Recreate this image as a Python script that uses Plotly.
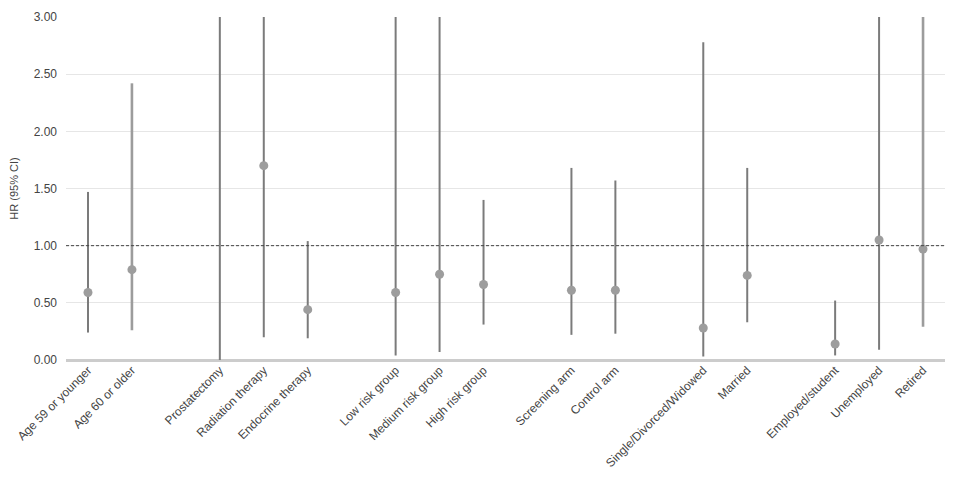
import plotly.graph_objects as go

# subgroup labels, blank spacers separate the groups
categories = ["Age 59 or younger", "Age 60 or older", " ",
              "Prostatectomy", "Radiation therapy", "Endocrine therapy", "  ",
              "Low risk group", "Medium risk group", "High risk group", "   ",
              "Screening arm", "Control arm", "    ",
              "Single/Divorced/Widowed", "Married", "     ",
              "Employed/student", "Unemployed", "Retired"]

subgroups = ["Age 59 or younger", "Age 60 or older",
             "Prostatectomy", "Radiation therapy", "Endocrine therapy",
             "Low risk group", "Medium risk group", "High risk group",
             "Screening arm", "Control arm",
             "Single/Divorced/Widowed", "Married",
             "Employed/student", "Unemployed", "Retired"]
hr = [0.59, 0.79, None, 1.70, 0.44, 0.59, 0.75, 0.66, 0.61, 0.61,
      0.28, 0.74, 0.14, 1.05, 0.97]
ci_low = [0.24, 0.26, 0.00, 0.20, 0.19, 0.04, 0.07, 0.31, 0.22, 0.23,
          0.03, 0.33, 0.04, 0.09, 0.29]
ci_high = [1.47, 2.42, 5.00, 5.00, 1.04, 5.00, 5.00, 1.40, 1.68, 1.57,
           2.78, 1.68, 0.52, 5.00, 5.00]
light = ["Age 60 or older", "Retired"]

fig = go.Figure()

for name, lo, hi in zip(subgroups, ci_low, ci_high):
    fig.add_trace(go.Scatter(
        x=[name, name], y=[lo, hi], mode="lines",
        line=dict(color="#9c9c9c" if name in light else "#7b7b7b",
                  width=2.6 if name in light else 2),
        hoverinfo="skip", showlegend=False))

fig.add_trace(go.Scatter(
    x=subgroups, y=hr, mode="markers",
    marker=dict(color="#9d9d9d", size=9),
    showlegend=False))

fig.add_hline(y=1, line=dict(color="#444444", width=1, dash="3px,2px"))

fig.update_layout(
    width=941, height=462,
    margin=dict(l=58, r=4, t=9, b=110),
    plot_bgcolor="white", paper_bgcolor="white",
    font=dict(family="Liberation Sans, Arial, sans-serif", size=12, color="#444444"),
    xaxis=dict(type="category", categoryorder="array", categoryarray=categories,
               range=[-0.5, 19.5], tickangle=-45, showgrid=False, automargin=False,
               ticks="", showline=False, zeroline=False),
    yaxis=dict(range=[0, 3], tickvals=[0, 0.5, 1, 1.5, 2, 2.5, 3],
               tickformat=".2f", showgrid=True, gridcolor="#e6e6e6", gridwidth=1,
               zeroline=True, zerolinecolor="#cccccc", zerolinewidth=2.5,
               showline=False, ticks="", ticklabelstandoff=8, automargin=False,
               title=dict(text="HR (95% CI)", standoff=12, font=dict(size=11))),
)

fig.write_html("out.html")
